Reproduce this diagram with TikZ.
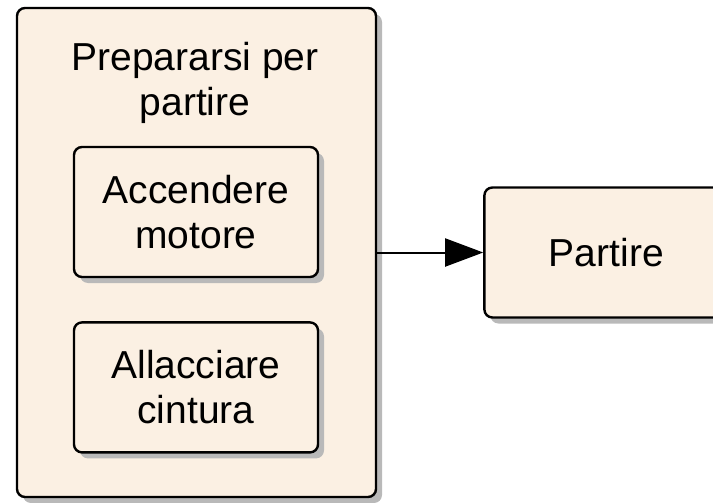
\documentclass[tikz,border=0pt]{standalone}
\usepackage{fontspec}
\setmainfont{Liberation Sans}
\usepackage{xcolor}
\usetikzlibrary{arrows.meta,positioning,shadows}

\definecolor{cream}{RGB}{251,240,227}
\definecolor{shade}{RGB}{185,185,185}

\begin{document}
\begin{tikzpicture}[
    x=1pt, y=1pt,
    node distance=43pt and 106pt,
    actbox/.style={
        rectangle, draw=black, line width=2.4pt, rounded corners=8pt,
        fill=cream, inner sep=0pt,
        drop shadow={shadow xshift=6pt, shadow yshift=-6pt,
                     fill=shade, opacity=1},
        minimum width=244pt, minimum height=130pt,
        align=center, font=\fontsize{39}{45}\selectfont
    },
    flow/.style={
        -{Triangle[length=38pt,width=28pt]}, line width=2pt, draw=black
    }
]
\useasboundingbox (0,0) rectangle (713,-503);

% Outer activity with its title
\node[actbox, minimum width=359pt, minimum height=489pt] (prep) at (196.5,-252.5) {};
\node[font=\fontsize{39}{45}\selectfont, align=center, inner sep=0pt]
    (prep_title) at (195,-83) {Prepararsi per\\partire};

% Inner actions
\node[actbox] (motore) at (196,-212) {Accendere\\motore};
\node[actbox, below=43pt of motore] (cintura) {Allacciare\\cintura};

% Next activity
\node[actbox, right=106pt of prep] (partire) {Partire};

% Flow
\draw[flow] (prep) -- (partire);

\end{tikzpicture}
\end{document}
